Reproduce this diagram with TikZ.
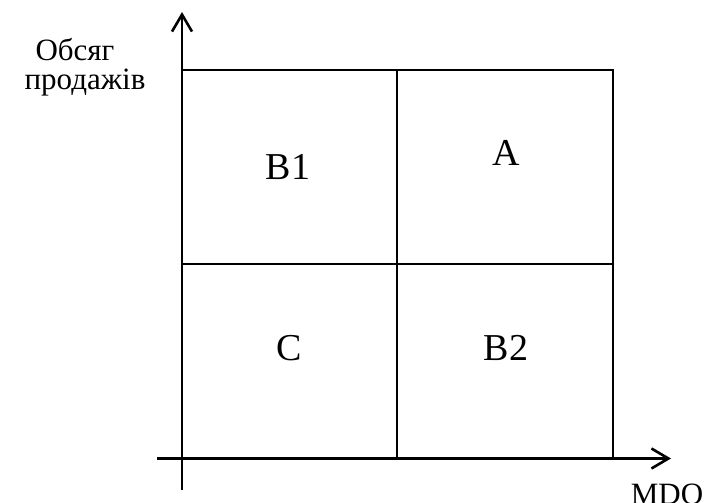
\documentclass[tikz,border=0pt]{standalone}
\usepackage{fontspec}
\setmainfont{Liberation Serif}
\usetikzlibrary{arrows.meta}
\begin{document}
\begin{tikzpicture}[x=1pt,y=-1pt,
  axis/.style={line width=2.6pt,-{Straight Barb[length=17pt,width=20pt,line width=2.6pt]}},
  grid/.style={line width=1.3pt},
  cell/.style={font=\fontsize{38}{40}\selectfont,anchor=base,inner sep=0pt},
  lab/.style={font=\fontsize{31}{33}\selectfont,anchor=base,inner sep=0pt}]
\useasboundingbox (0,0) rectangle (704,503);
\coordinate (y0) at (182,490);
\coordinate (y1) at (182,12);
\coordinate (x0) at (157,458.5);
\coordinate (x1) at (671,458.5);
\draw[grid] (182,70) rectangle (613,458.5);
\draw[grid] (397,70) -- (397,458.5);
\draw[grid] (182,264) -- (613,264);
\draw[axis] (y0) -- (y1);
\draw[axis] (x0) -- (x1);
\node[cell] (b1) at (288,179) {B1};
\node[cell] (a) at (506,165) {A};
\node[cell] (c) at (289,360) {C};
\node[cell] (b2) at (506,360) {B2};
\node[lab] (o1) at (75,60) {Обсяг};
\node[lab] (o2) at (85,89) {продажів};
\node[lab] (mdo) at (667,504.5) {MDO};
\end{tikzpicture}
\end{document}
